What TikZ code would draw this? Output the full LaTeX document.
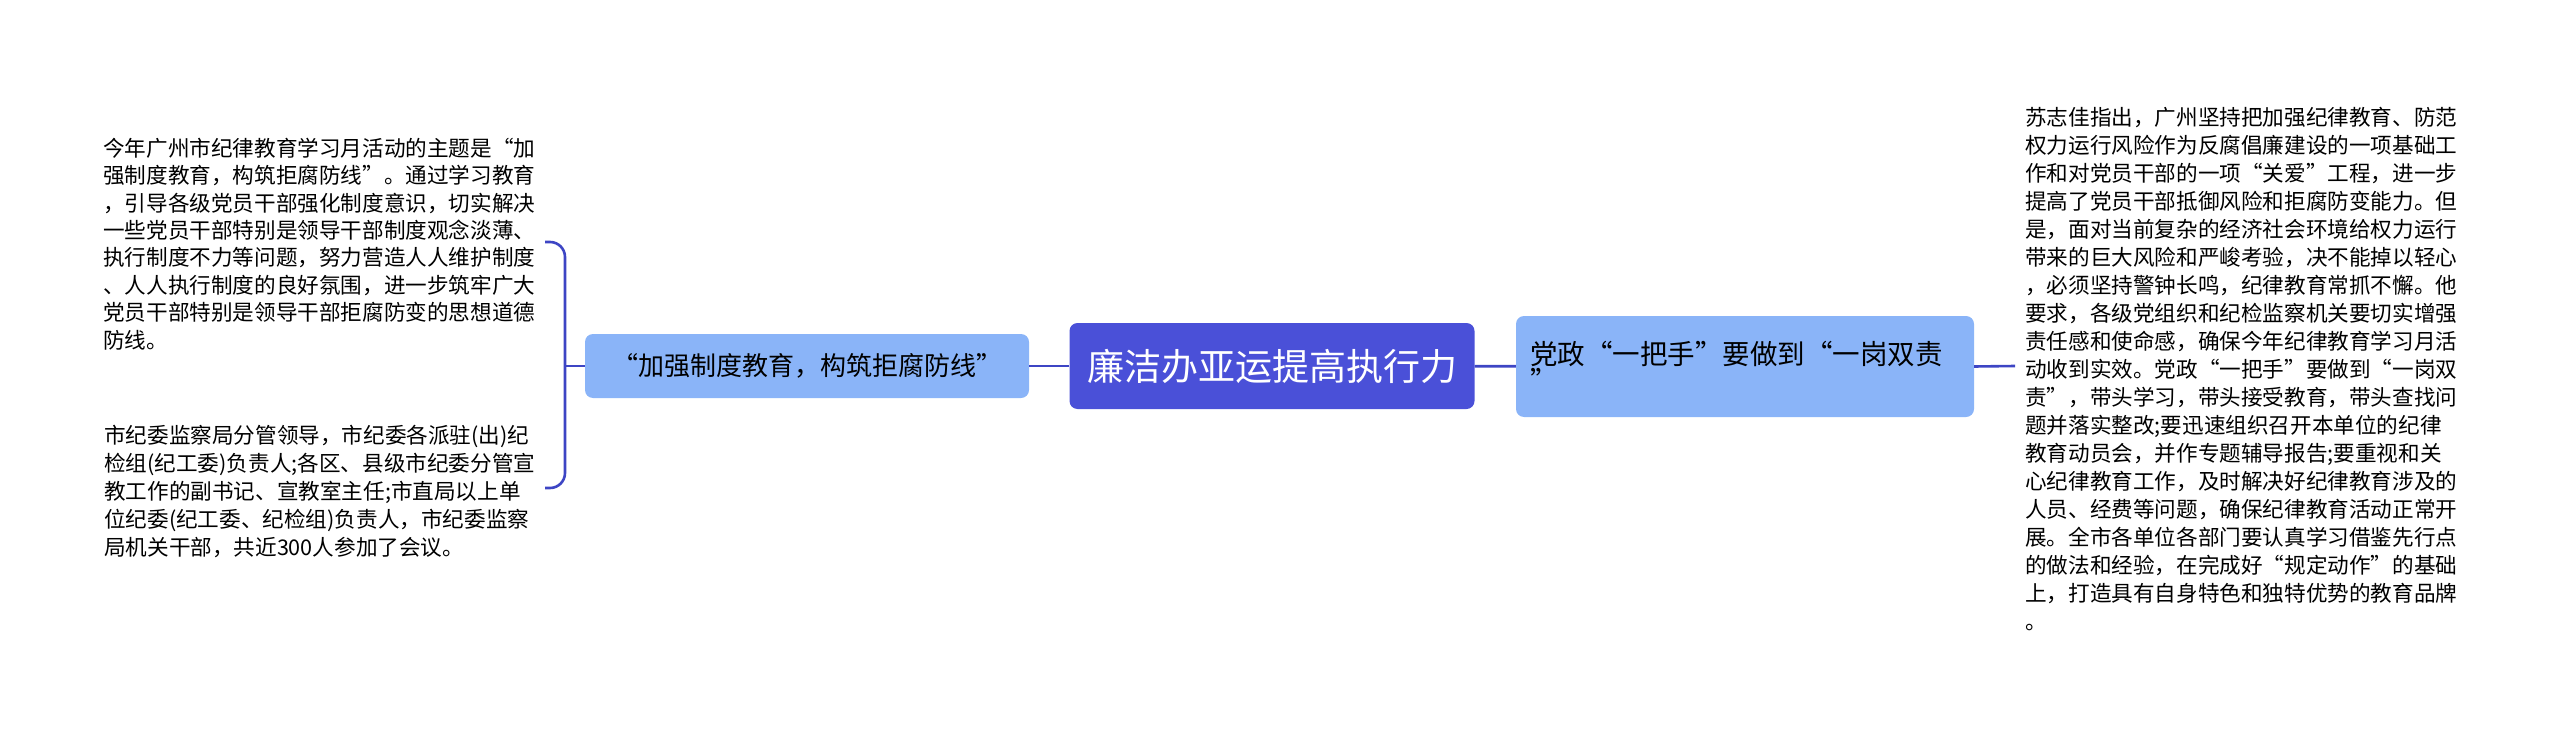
\documentclass[tikz,border=0pt]{standalone}
\usepackage{fontspec}
\setmainfont{Noto Sans CJK SC}
\usepackage{xcolor}
\usetikzlibrary{positioning, calc}
\definecolor{rootblue}{HTML}{4A50D8}
\definecolor{linkblue}{HTML}{3D45C4}
\definecolor{subblue}{HTML}{8AB4F8}

\begin{document}
\begin{tikzpicture}[
  x=1pt, y=-1pt,
  topic/.style={fill=subblue, rounded corners=8pt, inner sep=0pt, align=left},
  note/.style={inner sep=0pt, align=left, anchor=west, font=\fontsize{21.6}{28}\selectfont},
  link/.style={draw=linkblue, line width=2.6pt}
]
  \useasboundingbox (0,0) rectangle (2560,733);

  \node[fill=rootblue, rounded corners=8pt, minimum width=405pt, minimum height=86pt, text=white,
        font=\fontsize{37}{40}\selectfont] (root) at (1272,366) {廉洁办亚运提高执行力};
  \node[topic, minimum width=444pt, minimum height=64pt, align=center,
        font=\fontsize{26}{30}\selectfont] (edu) at (807,366) {“加强制度教育，构筑拒腐防线”};
  \node[topic, text width=430pt, inner xsep=14pt, minimum height=101pt,
        font=\fontsize{27.5}{27}\selectfont] (duty) at (1745,366.5) {党政“一把手”要做到“一岗双责\\”};

  \node[note, font=\fontsize{21.6}{27.4}\selectfont] (theme) at (103,244) {今年广州市纪律教育学习月活动的主题是“加\\
强制度教育，构筑拒腐防线”。通过学习教育\\
，引导各级党员干部强化制度意识，切实解决\\
一些党员干部特别是领导干部制度观念淡薄、\\
执行制度不力等问题，努力营造人人维护制度\\
、人人执行制度的良好氛围，进一步筑牢广大\\
党员干部特别是领导干部拒腐防变的思想道德\\
防线。};
  \node[note] (who) at (104,491) {市纪委监察局分管领导，市纪委各派驻(出)纪\\
检组(纪工委)负责人;各区、县级市纪委分管宣\\
教工作的副书记、宣教室主任;市直局以上单\\
位纪委(纪工委、纪检组)负责人，市纪委监察\\
局机关干部，共近300人参加了会议。};
  \node[note] (speech) at (2025,369.5) {苏志佳指出，广州坚持把加强纪律教育、防范\\
权力运行风险作为反腐倡廉建设的一项基础工\\
作和对党员干部的一项“关爱”工程，进一步\\
提高了党员干部抵御风险和拒腐防变能力。但\\
是，面对当前复杂的经济社会环境给权力运行\\
带来的巨大风险和严峻考验，决不能掉以轻心\\
，必须坚持警钟长鸣，纪律教育常抓不懈。他\\
要求，各级党组织和纪检监察机关要切实增强\\
责任感和使命感，确保今年纪律教育学习月活\\
动收到实效。党政“一把手”要做到“一岗双\\
责”，带头学习，带头接受教育，带头查找问\\
题并落实整改;要迅速组织召开本单位的纪律\\
教育动员会，并作专题辅导报告;要重视和关\\
心纪律教育工作，及时解决好纪律教育涉及的\\
人员、经费等问题，确保纪律教育活动正常开\\
展。全市各单位各部门要认真学习借鉴先行点\\
的做法和经验，在完成好“规定动作”的基础\\
上，打造具有自身特色和独特优势的教育品牌\\
。};

  \coordinate (brTop) at (545,242);
  \coordinate (brBot) at (545,488);
  \coordinate (brMid) at (565,366);
  \coordinate (brEnd) at (2015,366);

  \draw[link] (root) -- (edu);
  \draw[link] (root) -- (duty);
  \draw[link] (edu.west) -- (brMid);
  \draw[link, rounded corners=15pt] (brTop) -- (brTop -| brMid) -- (brBot -| brMid) -- (brBot);
  \draw[link] (duty.east) -- (brEnd);
\end{tikzpicture}
\end{document}
